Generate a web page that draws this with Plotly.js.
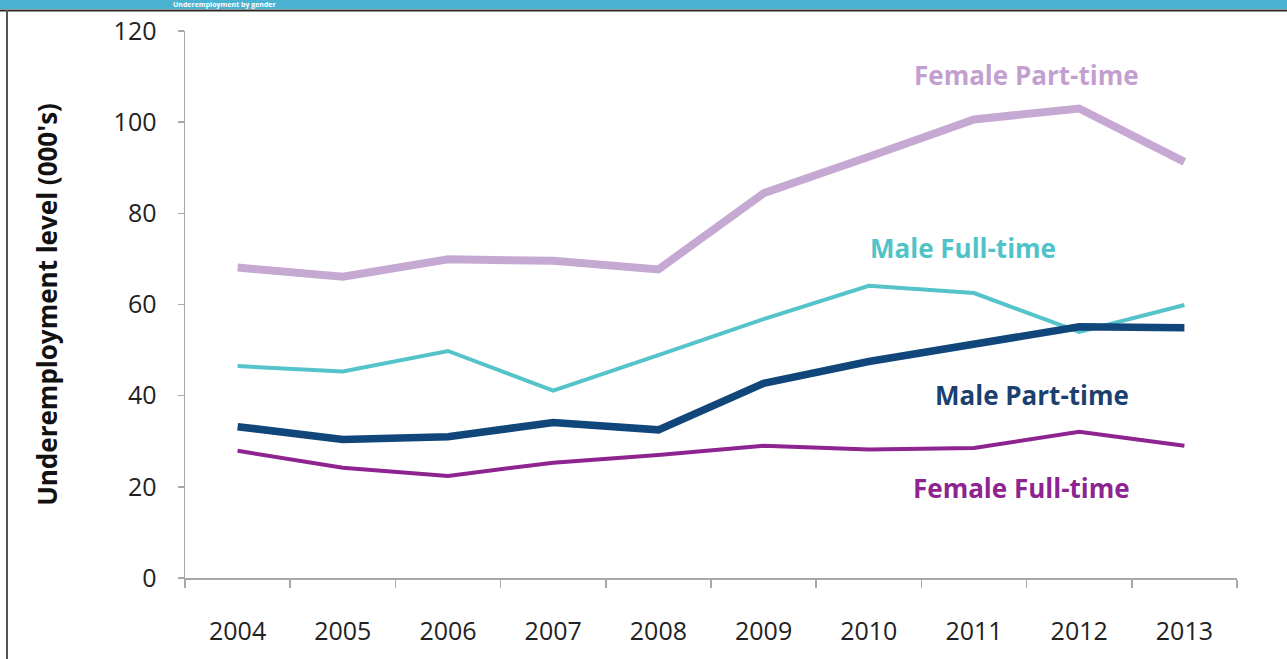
<!DOCTYPE html>
<html>
<head>
<meta charset="utf-8">
<script src="https://cdn.plot.ly/plotly-3.0.1.min.js"></script>
<style>
  html, body { margin: 0; padding: 0; background: #ffffff; }
  #chart { width: 1287px; height: 659px; }
</style>
</head>
<body>
<div id="chart"></div>
<script>
const years = ["2004","2005","2006","2007","2008","2009","2010","2011","2012","2013"];
const femalePartTime = [68.1, 66.1, 69.9, 69.6, 67.7, 84.4, 92.4, 100.6, 103.0, 91.3];
const maleFullTime   = [46.5, 45.3, 49.8, 41.1, 48.9, 56.8, 64.1, 62.5, 54.0, 59.9];
const malePartTime   = [33.2, 30.4, 31.0, 34.1, 32.5, 42.7, 47.5, 51.1, 55.1, 54.9];
const femaleFullTime = [27.9, 24.2, 22.4, 25.3, 27.0, 29.0, 28.2, 28.5, 32.1, 29.0];
const seriesNames = ["Female Part-time", "Male Full-time", "Male Part-time", "Female Full-time"];
const yTickVals = [0, 20, 40, 60, 80, 100, 120];
const bannerTitle = "Underemployment by gender";

const colors = ["#c6a9d2", "#55c4ca", "#10467a", "#8d2490"];
const widths = [8, 4, 7.5, 4];
const seriesData = [femalePartTime, maleFullTime, malePartTime, femaleFullTime];

const traces = seriesData.map((vals, i) => ({
  type: "scatter",
  mode: "lines",
  x: years,
  y: vals,
  name: seriesNames[i],
  line: { color: colors[i], width: widths[i], shape: "linear" },
  hoverinfo: "x+y+name"
}));

// label positions (data coords)
const labelPos = [
  { x: 7.5, y: 110.3 },
  { x: 6.9, y: 72.3 },
  { x: 7.55, y: 40.2 },
  { x: 7.45, y: 19.8 }
];
const labelColors = ["#c39fd0", "#50c3c9", "#1b3f6e", "#8d2490"];

const annotations = labelPos.map((p, i) => ({
  x: p.x, y: p.y, xref: "x", yref: "y",
  text: seriesNames[i],
  showarrow: false,
  font: { family: "Open Sans, sans-serif", size: 26, color: labelColors[i], weight: "bold" },
  xanchor: "center", yanchor: "middle"
}));

annotations.push({
  x: -0.012, y: 1.0485, xref: "paper", yref: "paper",
  text: bannerTitle, showarrow: false, xanchor: "left", yanchor: "middle",
  borderpad: 0,
  font: { family: "Open Sans, sans-serif", size: 7, color: "#ffffff", weight: "bold" }
});

const shapes = [
  { type: "rect", xref: "paper", yref: "paper", x0: -0.2, x1: 1.1, y0: 1.0402, y1: 1.2,
    fillcolor: "#4ab2d1", line: { width: 0 }, layer: "below" },
  { type: "line", xref: "paper", yref: "paper", x0: -0.2, x1: 1.1, y0: 1.0375, y1: 1.0375,
    line: { color: "#2b2b2b", width: 2 } },
  { type: "line", xref: "paper", yref: "paper", x0: -0.1692, x1: -0.1692, y0: 1.0384, y1: -0.2,
    line: { color: "#555555", width: 2 } }
];

const layout = {
  width: 1287, height: 659,
  margin: { l: 185, r: 50, t: 31, b: 81, pad: 0 },
  paper_bgcolor: "#ffffff",
  plot_bgcolor: "#ffffff",
  showlegend: false,
  font: { family: "Open Sans, sans-serif", color: "#222222" },
  xaxis: {
    type: "category",
    range: [-0.5, 9.5],
    tickson: "boundaries",
    ticks: "outside", ticklen: 8, tickwidth: 1.5, tickcolor: "#a8a8a8",
    showline: true, linecolor: "#a8a8a8", linewidth: 2,
    showgrid: false, zeroline: false,
    tickfont: { family: "Open Sans, sans-serif", size: 25, color: "#222222" },
    ticklabelstandoff: 30
  },
  yaxis: {
    range: [0, 120],
    tickvals: yTickVals,
    ticks: "outside", ticklen: 6, tickwidth: 1.5, tickcolor: "#a8a8a8",
    showline: true, linecolor: "#a8a8a8", linewidth: 1.5,
    showgrid: false, zeroline: false,
    tickfont: { family: "Open Sans, sans-serif", size: 25, color: "#222222" },
    ticklabelstandoff: 16,
    title: { text: "Underemployment level (000's)", standoff: 48,
      font: { family: "Open Sans, sans-serif", size: 26, color: "#111111", weight: "bold" } }
  },
  annotations: annotations,
  shapes: shapes
};

Plotly.newPlot("chart", traces, layout, { displayModeBar: false, staticPlot: true });
</script>
</body>
</html>
